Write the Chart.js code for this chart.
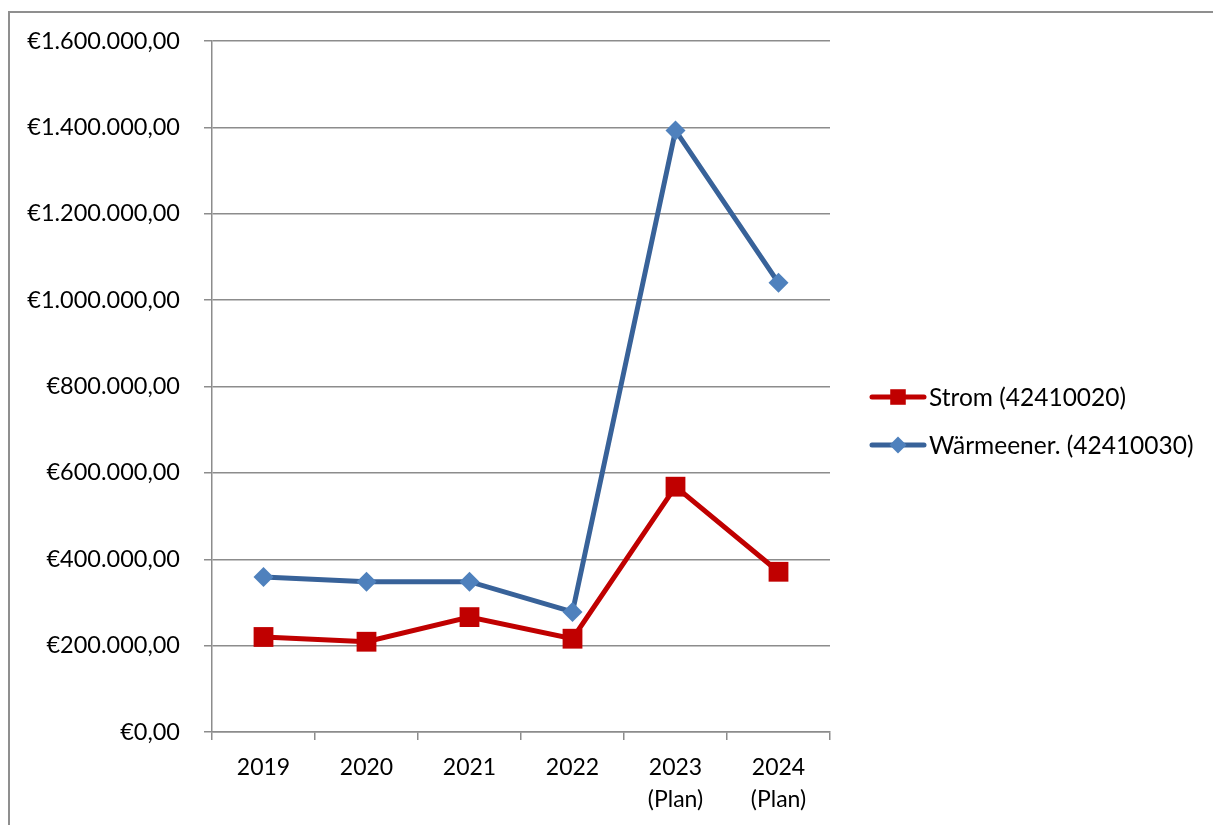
<!DOCTYPE html>
<html>
<head>
<meta charset="utf-8">
<script src="https://cdn.jsdelivr.net/npm/chart.js@4"></script>
<style>
  html, body { margin: 0; padding: 0; background: #fff; overflow: hidden; }
  #wrap { position: relative; width: 1213px; height: 825px; }
  #frame { position: absolute; left: 8px; top: 11px; width: 1230px; height: 840px;
           border: 2px solid #8f8f8f; box-sizing: border-box; pointer-events: none; }
  canvas { position: absolute; left: 0; top: 0; }
</style>
</head>
<body>
<div id="wrap">
  <canvas id="MyChart" width="1213" height="825"></canvas>
  <div id="frame"></div>
</div>
<script>
// Jahre (x-Achse)
const labels = [['2019'], ['2020'], ['2021'], ['2022'], ['2023', '(Plan)'], ['2024', '(Plan)']];

// Werte in Euro
const strom = [220000, 209000, 266000, 216000, 568000, 371000];
const waerme = [359000, 348000, 348000, 278000, 1393000, 1040000];

const seriesNames = ['Strom (42410020)', 'Wärmeener. (42410030)'];

// y-Achse
const yMin = 0;
const yMax = 1600000;
const yStep = 200000;

const FONT = 'Lato';
const gridColor = '#8c8c8c';

// € mit deutschem Format, z.B. €1.600.000,00
function euro(v) {
  const parts = Number(v).toFixed(2).split('.');
  const ganz = parts[0].replace(/\B(?=(\d{3})+(?!\d))/g, '.');
  return '€' + ganz + ',' + parts[1];
}

// Legende wie in Excel: Linie mit Marker in der Mitte
const excelLegend = {
  id: 'excelLegend',
  afterDraw(chart) {
    const ctx = chart.ctx;
    const rows = [397, 445];
    chart.data.datasets.forEach((ds, i) => {
      const y = rows[i];
      ctx.save();
      ctx.strokeStyle = ds.borderColor;
      ctx.lineWidth = 5;
      ctx.lineCap = 'round';
      ctx.beginPath();
      ctx.moveTo(872, y);
      ctx.lineTo(924, y);
      ctx.stroke();
      ctx.fillStyle = ds.pointBackgroundColor;
      ctx.strokeStyle = ds.pointBorderColor;
      ctx.lineWidth = 0;
      Chart.helpers.drawPoint(ctx, {
        pointStyle: ds.pointStyle,
        radius: ds.pointStyle === 'rect' ? 11 : 8.5,
        rotation: 0,
        borderWidth: 0
      }, 898, y);
      ctx.fillStyle = '#000';
      ctx.font = '24.5px ' + FONT;
      ctx.textBaseline = 'middle';
      ctx.textAlign = 'left';
      ctx.fillText(ds.label, 929, y + 1);
      ctx.restore();
    });
  }
};

const data = {
  labels: labels,
  datasets: [
    {
      label: seriesNames[0],
      data: strom,
      borderColor: '#c00000',
      backgroundColor: '#c00000',
      pointBackgroundColor: '#c00000',
      pointBorderColor: '#c00000',
      pointStyle: 'rect',
      pointRadius: 14,
      pointBorderWidth: 0,
      borderWidth: 5,
      tension: 0
    },
    {
      label: seriesNames[1],
      data: waerme,
      borderColor: '#386299',
      backgroundColor: '#4f81bd',
      pointBackgroundColor: '#4f81bd',
      pointBorderColor: '#4f81bd',
      pointStyle: 'rectRot',
      pointRadius: 10,
      pointBorderWidth: 0,
      borderWidth: 5,
      tension: 0
    }
  ]
};

const settei = {
  type: 'line',
  data: data,
  plugins: [excelLegend],
  options: {
    responsive: false,
    animation: false,
    events: [],
    layout: { padding: { left: 0, top: 41, right: 383, bottom: 0 } },
    plugins: {
      legend: { display: false },
      tooltip: { enabled: false }
    },
    scales: {
      x: {
        offset: true,
        grid: {
          offset: true,
          drawOnChartArea: false,
          drawTicks: true,
          tickLength: 8,
          color: gridColor,
          lineWidth: 1.5
        },
        border: { color: gridColor, width: 1.5 },
        ticks: {
          color: '#000',
          font: { family: FONT, size: 23, lineHeight: 1.4 },
          padding: 11,
          maxRotation: 0,
          autoSkip: false
        },
        afterFit: (s) => { s.height = 93; }
      },
      y: {
        min: yMin,
        max: yMax,
        grid: {
          color: gridColor,
          lineWidth: 1.5,
          drawTicks: true,
          tickLength: 8
        },
        border: { color: gridColor, width: 1.5 },
        ticks: {
          stepSize: yStep,
          color: '#000',
          font: { family: FONT, size: 23.5 },
          padding: 24,
          callback: (v) => euro(v)
        },
        afterFit: (s) => { s.width = 212; }
      }
    }
  }
};

const kekka = new Chart(document.getElementById('MyChart'), settei);
</script>
</body>
</html>
